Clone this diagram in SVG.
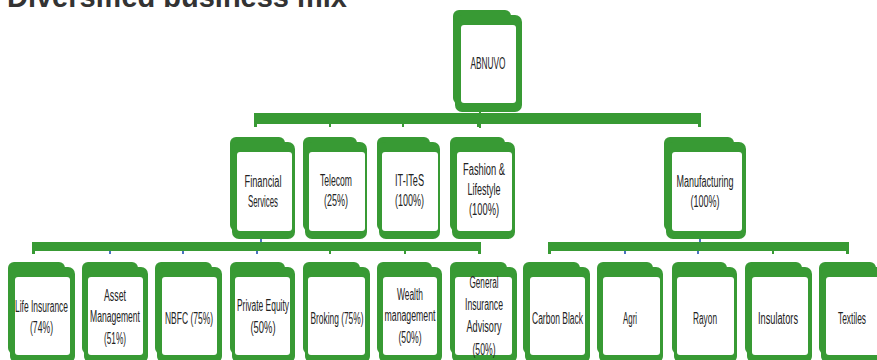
<svg xmlns="http://www.w3.org/2000/svg" width="877" height="360" viewBox="0 0 877 360">
<style>
.g{fill:#389a34}
.w{fill:#ffffff}
.t{font-family:"Liberation Sans",Arial,sans-serif;font-size:16px;fill:#222;text-anchor:middle}
.tk{stroke:#389a34;stroke-width:2}
.tb{stroke:#4a72c0;stroke-width:2}
</style>
<rect width="877" height="360" fill="#fff"/>
<text x="7" y="7" font-family="Liberation Sans,Arial,sans-serif" font-weight="bold" font-size="29" fill="#333" textLength="340" lengthAdjust="spacingAndGlyphs">Diversified business mix</text>

<g id="connectors">
  <line class="tk" x1="480" y1="110" x2="480" y2="128"/>
  <rect class="g" x="254" y="113" width="447" height="11" rx="2"/>
  <rect class="g" x="254" y="113" width="3" height="14"/>
  <rect class="g" x="698" y="113" width="3" height="14"/>
  <line class="tk" x1="330" y1="124" x2="330" y2="127"/>
  <line class="tk" x1="403" y1="124" x2="403" y2="127"/>
  <line class="tk" x1="478" y1="124" x2="478" y2="127"/>

  <line class="tb" x1="261" y1="236" x2="261" y2="244"/>
  <rect class="g" x="32" y="242" width="449" height="9" rx="2"/>
  <rect class="g" x="32" y="242" width="3" height="12"/>
  <rect class="g" x="478" y="242" width="3" height="12"/>
  <line class="tb" x1="110" y1="251" x2="110" y2="254"/>
  <line class="tb" x1="183" y1="251" x2="183" y2="254"/>
  <line class="tb" x1="257" y1="251" x2="257" y2="254"/>
  <line class="tk" x1="330" y1="251" x2="330" y2="254"/>
  <line class="tk" x1="405" y1="251" x2="405" y2="254"/>

  <line class="tb" x1="700" y1="236" x2="700" y2="244"/>
  <rect class="g" x="548" y="242" width="301" height="9" rx="2"/>
  <rect class="g" x="548" y="242" width="3" height="12"/>
  <rect class="g" x="846" y="242" width="3" height="12"/>
  <line class="tb" x1="625" y1="251" x2="625" y2="254"/>
  <line class="tb" x1="698" y1="251" x2="698" y2="254"/>
  <line class="tk" x1="773" y1="251" x2="773" y2="254"/>
</g>

<g id="abnuvo">
  <rect class="g" x="453" y="10" width="58" height="94" rx="6"/>
  <rect class="g" x="455" y="15" width="67" height="97" rx="7"/>
  <rect class="w" x="461" y="25" width="55" height="78" rx="3"/>
  <text class="t" x="488" y="69" textLength="35" lengthAdjust="spacingAndGlyphs">ABNUVO</text>
</g>

<g id="financial-services">
  <rect class="g" x="230" y="137" width="55" height="94" rx="6"/>
  <rect class="g" x="232" y="142" width="63" height="97" rx="7"/>
  <rect class="w" x="237" y="152" width="55" height="79" rx="3"/>
  <text class="t" x="263" y="187" textLength="37" lengthAdjust="spacingAndGlyphs">Financial</text>
  <text class="t" x="263" y="207" textLength="30" lengthAdjust="spacingAndGlyphs">Services</text>
</g>
<g id="telecom">
  <rect class="g" x="303" y="137" width="54" height="94" rx="6"/>
  <rect class="g" x="305" y="142" width="62" height="97" rx="7"/>
  <rect class="w" x="309" y="152" width="56" height="79" rx="3"/>
  <text class="t" x="336" y="186" textLength="32" lengthAdjust="spacingAndGlyphs">Telecom</text>
  <text class="t" x="336" y="206" textLength="24" lengthAdjust="spacingAndGlyphs">(25%)</text>
</g>
<g id="it-ites">
  <rect class="g" x="377" y="137" width="53" height="94" rx="6"/>
  <rect class="g" x="379" y="142" width="61" height="97" rx="7"/>
  <rect class="w" x="382" y="152" width="56" height="79" rx="3"/>
  <text class="t" x="409.5" y="186" textLength="29" lengthAdjust="spacingAndGlyphs">IT-ITeS</text>
  <text class="t" x="409.5" y="206" textLength="29" lengthAdjust="spacingAndGlyphs">(100%)</text>
</g>
<g id="fashion-lifestyle">
  <rect class="g" x="450" y="137" width="55" height="94" rx="6"/>
  <rect class="g" x="452" y="142" width="63" height="97" rx="7"/>
  <rect class="w" x="457" y="152" width="55" height="79" rx="3"/>
  <text class="t" x="484" y="175" textLength="42" lengthAdjust="spacingAndGlyphs">Fashion &amp;</text>
  <text class="t" x="484" y="195" textLength="33" lengthAdjust="spacingAndGlyphs">Lifestyle</text>
  <text class="t" x="484" y="215" textLength="30" lengthAdjust="spacingAndGlyphs">(100%)</text>
</g>
<g id="manufacturing">
  <rect class="g" x="664" y="137" width="70" height="94" rx="6"/>
  <rect class="g" x="666" y="142" width="80" height="97" rx="7"/>
  <rect class="w" x="672" y="152" width="70" height="79" rx="3"/>
  <text class="t" x="705" y="187" textLength="57" lengthAdjust="spacingAndGlyphs">Manufacturing</text>
  <text class="t" x="705" y="207" textLength="29" lengthAdjust="spacingAndGlyphs">(100%)</text>
</g>

<g id="life-insurance">
  <rect class="g" x="8" y="262" width="57" height="92" rx="6"/>
  <rect class="g" x="10" y="267" width="65" height="96" rx="7"/>
  <rect class="w" x="15" y="277" width="55" height="78" rx="3"/>
  <text class="t" x="41.5" y="312" textLength="53" lengthAdjust="spacingAndGlyphs">Life Insurance</text>
  <text class="t" x="41.5" y="333" textLength="23" lengthAdjust="spacingAndGlyphs">(74%)</text>
</g>
<g id="asset-management">
  <rect class="g" x="82" y="262" width="56" height="92" rx="6"/>
  <rect class="g" x="84" y="267" width="64" height="96" rx="7"/>
  <rect class="w" x="88" y="277" width="55" height="78" rx="3"/>
  <text class="t" x="115" y="301" textLength="22" lengthAdjust="spacingAndGlyphs">Asset</text>
  <text class="t" x="115" y="322" textLength="50" lengthAdjust="spacingAndGlyphs">Management</text>
  <text class="t" x="115" y="344" textLength="22" lengthAdjust="spacingAndGlyphs">(51%)</text>
</g>
<g id="nbfc">
  <rect class="g" x="155" y="262" width="57" height="92" rx="6"/>
  <rect class="g" x="157" y="267" width="65" height="96" rx="7"/>
  <rect class="w" x="162" y="277" width="55" height="78" rx="3"/>
  <text class="t" x="189" y="324" textLength="48" lengthAdjust="spacingAndGlyphs">NBFC  (75%)</text>
</g>
<g id="private-equity">
  <rect class="g" x="230" y="262" width="55" height="92" rx="6"/>
  <rect class="g" x="232" y="267" width="63" height="96" rx="7"/>
  <rect class="w" x="235" y="277" width="55" height="78" rx="3"/>
  <text class="t" x="263" y="311" textLength="52" lengthAdjust="spacingAndGlyphs">Private Equity</text>
  <text class="t" x="263" y="333" textLength="25" lengthAdjust="spacingAndGlyphs">(50%)</text>
</g>
<g id="broking">
  <rect class="g" x="303" y="262" width="57" height="92" rx="6"/>
  <rect class="g" x="305" y="267" width="65" height="96" rx="7"/>
  <rect class="w" x="308" y="277" width="57" height="78" rx="3"/>
  <text class="t" x="337" y="324" textLength="53" lengthAdjust="spacingAndGlyphs">Broking (75%)</text>
</g>
<g id="wealth-management">
  <rect class="g" x="377" y="262" width="55" height="92" rx="6"/>
  <rect class="g" x="379" y="267" width="63" height="96" rx="7"/>
  <rect class="w" x="383" y="277" width="54" height="78" rx="3"/>
  <text class="t" x="410" y="300" textLength="26" lengthAdjust="spacingAndGlyphs">Wealth</text>
  <text class="t" x="410" y="321" textLength="51" lengthAdjust="spacingAndGlyphs">management</text>
  <text class="t" x="410" y="343" textLength="23" lengthAdjust="spacingAndGlyphs">(50%)</text>
</g>
<g id="general-insurance-advisory">
  <rect class="g" x="450" y="262" width="57" height="92" rx="6"/>
  <rect class="g" x="452" y="267" width="65" height="96" rx="7"/>
  <rect class="w" x="455" y="277" width="57" height="78" rx="3"/>
  <text class="t" x="484" y="288" textLength="29" lengthAdjust="spacingAndGlyphs">General</text>
  <text class="t" x="484" y="310" textLength="38" lengthAdjust="spacingAndGlyphs">Insurance</text>
  <text class="t" x="484" y="332" textLength="35" lengthAdjust="spacingAndGlyphs">Advisory</text>
  <text class="t" x="484" y="355" textLength="23" lengthAdjust="spacingAndGlyphs">(50%)</text>
</g>
<g id="carbon-black">
  <rect class="g" x="523" y="262" width="57" height="92" rx="6"/>
  <rect class="g" x="525" y="267" width="65" height="96" rx="7"/>
  <rect class="w" x="530" y="277" width="55" height="78" rx="3"/>
  <text class="t" x="557.5" y="324" textLength="51" lengthAdjust="spacingAndGlyphs">Carbon Black</text>
</g>
<g id="agri">
  <rect class="g" x="597" y="262" width="56" height="92" rx="6"/>
  <rect class="g" x="599" y="267" width="64" height="96" rx="7"/>
  <rect class="w" x="603" y="277" width="57" height="78" rx="3"/>
  <text class="t" x="630" y="324" textLength="14" lengthAdjust="spacingAndGlyphs">Agri</text>
</g>
<g id="rayon">
  <rect class="g" x="672" y="262" width="55" height="92" rx="6"/>
  <rect class="g" x="674" y="267" width="63" height="96" rx="7"/>
  <rect class="w" x="677" y="277" width="57" height="78" rx="3"/>
  <text class="t" x="705" y="324" textLength="24" lengthAdjust="spacingAndGlyphs">Rayon</text>
</g>
<g id="insulators">
  <rect class="g" x="745" y="262" width="57" height="92" rx="6"/>
  <rect class="g" x="747" y="267" width="65" height="96" rx="7"/>
  <rect class="w" x="752" y="277" width="56" height="78" rx="3"/>
  <text class="t" x="778" y="324" textLength="40" lengthAdjust="spacingAndGlyphs">Insulators</text>
</g>
<g id="textiles">
  <rect class="g" x="819" y="262" width="57" height="92" rx="6"/>
  <rect class="g" x="821" y="267" width="65" height="96" rx="7"/>
  <rect class="w" x="826" y="277" width="55" height="78" rx="3"/>
  <text class="t" x="852" y="324" textLength="28" lengthAdjust="spacingAndGlyphs">Textiles</text>
</g>
</svg>
